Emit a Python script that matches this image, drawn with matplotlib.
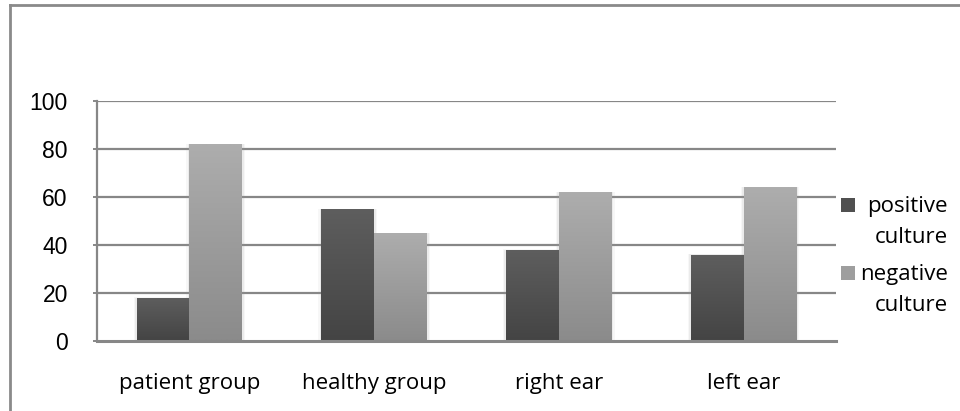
import numpy as np
import matplotlib
matplotlib.use("Agg")
import matplotlib.pyplot as plt
from matplotlib.lines import Line2D
from matplotlib.patches import Rectangle

categories = ["patient group", "healthy group", "right ear", "left ear"]
positive = [18, 55, 38, 36]
negative = [82, 45, 62, 64]
series_names = ["positive\nculture", "negative\nculture"]
yticks = [0, 20, 40, 60, 80, 100]

W, H, DPI = 960, 411, 100
fig = plt.figure(figsize=(W / DPI, H / DPI), dpi=DPI)
fig.patch.set_facecolor("white")

ax = fig.add_axes([97 / W, 1 - 341 / H, (836 - 97) / W, (341 - 101) / H])
ax.set_xlim(-0.5, len(categories) - 0.5)
ax.set_ylim(0, 100)

grid_col = "#878787"
for y in yticks[1:]:
    ax.axhline(y, color=grid_col, lw=1.6, zorder=1)

bar_w = 1 / 3.5
x = np.arange(len(categories))

gradients = [("#5e5e5e", "#444444"), ("#adadad", "#8b8b8b")]


def hex_rgb(h):
    return np.array([int(h[i:i + 2], 16) / 255 for i in (1, 3, 5)])


def gradient_bars(xs, vals, top_bottom, offset):
    top, bottom = hex_rgb(top_bottom[0]), hex_rgb(top_bottom[1])
    for xi, v in zip(xs, vals):
        left = xi + offset - bar_w / 2
        # soft halo around each bar
        for k, a in ((0.016, 0.08), (0.009, 0.12)):
            ax.add_patch(Rectangle((left - k, 0), bar_w + 2 * k, v + k * 10,
                                   facecolor="#9a9a9a", edgecolor="none",
                                   alpha=a, zorder=2))
        bar = ax.bar(xi + offset, v, width=bar_w, color="none",
                     edgecolor="none", zorder=3)[0]
        t = np.linspace(0, 1, 64)[:, None]
        img = (top * (1 - t) + bottom * t)[:, None, :].repeat(2, axis=1)
        im = ax.imshow(img, extent=(left, left + bar_w, 0, v), aspect="auto",
                       interpolation="bilinear", zorder=3)
        im.set_clip_path(bar)


gradient_bars(x, positive, gradients[0], -bar_w / 2)
gradient_bars(x, negative, gradients[1], bar_w / 2)
ax.set_xlim(-0.5, len(categories) - 0.5)
ax.set_ylim(0, 100)

for s in ("top", "right"):
    ax.spines[s].set_visible(False)
ax.spines["left"].set_color(grid_col)
ax.spines["left"].set_linewidth(1.6)
ax.spines["bottom"].set_color(grid_col)
ax.spines["bottom"].set_linewidth(2.2)
ax.spines["bottom"].set_zorder(5)

ax.set_yticks(yticks)
ax.set_yticklabels([str(v) for v in yticks], fontfamily="Liberation Sans",
                   fontsize=16.5)
ax.tick_params(axis="y", length=3, width=1.4, color=grid_col, pad=18)
ax.set_xticks(x)
ax.set_xticklabels(categories, fontfamily="Open Sans", fontsize=16)
ax.tick_params(axis="x", length=0, pad=23)

# legend drawn by hand: swatches with right-aligned wrapped labels
leg_cols = ["#505050", "#9e9e9e"]
sw_y = [205, 273]
for col, name, yc in zip(leg_cols, series_names, sw_y):
    fig.add_artist(Rectangle((841 / W, 1 - (yc + 7) / H), 14 / W, 14 / H,
                             transform=fig.transFigure, facecolor=col,
                             edgecolor="none"))
    fig.text(948 / W, 1 - (yc + 17) / H, name, ha="right", va="center",
             fontfamily="Open Sans", fontsize=16, linespacing=1.62)

# outer frame
fig.add_artist(Line2D([9.5 / W, 9.5 / W], [0, 1 - 5 / H],
                      transform=fig.transFigure, color="#8a8a8a", lw=2))
fig.add_artist(Line2D([9.5 / W, 1], [1 - 5 / H, 1 - 5 / H],
                      transform=fig.transFigure, color="#8a8a8a", lw=2))

fig.savefig("out.png", dpi=DPI, facecolor="white")
